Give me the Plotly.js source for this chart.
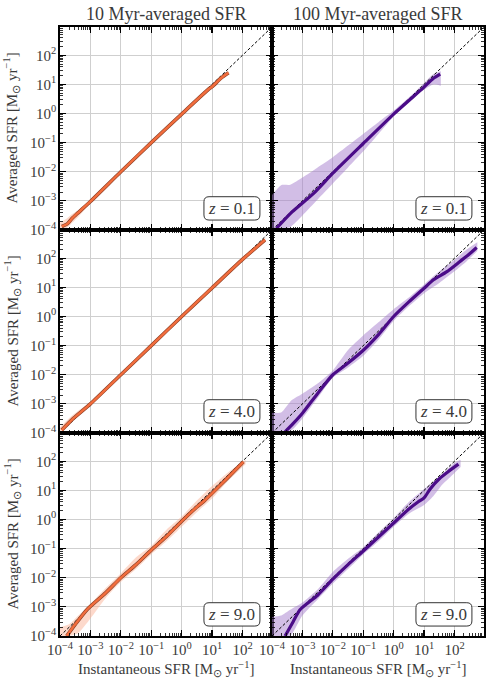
<!DOCTYPE html>
<html>
<head>
<meta charset="utf-8">
<script src="https://cdn.plot.ly/plotly-3.0.1.min.js"></script>
<style>
  html, body { margin: 0; padding: 0; background: #fff; }
  #chart { width: 489px; height: 682px; }
</style>
</head>
<body>
<div id="chart"></div>
<script>
(function () {
    'use strict';

    var DIAG_LOG = [-4, 3];

    // 10 Myr, z = 0.1
    var P1_X = [-3.94, -3.75, -3.6, -3.45, -3.0, -2.0, -1.0, 0.0, 0.9, 1.0, 1.3, 1.54];
    var P1_Y = [-3.88, -3.78, -3.6, -3.45, -3.02, -2.0, -1.0, -0.02, 0.85, 0.92, 1.22, 1.40];
    var P1_BX = [-4.0, -3.8, -3.6, -3.4, -3.0, -2.0, -1.0, 0.0, 1.0, 1.3, 1.55];
    var P1_LO = [-4.0, -3.95, -3.75, -3.55, -3.08, -2.05, -1.05, -0.07, 0.86, 1.16, 1.35];
    var P1_HI = [-3.75, -3.62, -3.45, -3.32, -2.95, -1.95, -0.95, 0.03, 0.98, 1.28, 1.45];

    // 100 Myr, z = 0.1
    var P2_X = [-3.85, -3.34, -2.64, -2.0, -1.0, 0.0, 0.98, 1.3, 1.53];
    var P2_Y = [-3.94, -3.38, -2.75, -2.05, -1.03, -0.02, 0.89, 1.2, 1.35];
    var P2_BX = [-4.0, -3.7, -3.4, -3.0, -2.5, -2.0, -1.5, -1.0, -0.5, 0.0, 0.5, 1.0, 1.3, 1.55];
    var P2_LO = [-4.0, -4.0, -3.9, -3.5, -2.95, -2.4, -1.85, -1.3, -0.7, -0.1, 0.4, 0.82, 1.0, 0.95];
    var P2_HI = [-2.8, -2.46, -2.45, -2.2, -1.85, -1.5, -1.1, -0.7, -0.3, 0.1, 0.55, 1.05, 1.35, 1.45];

    // 10 Myr, z = 4.0
    var P3_X = [-3.94, -3.56, -3.0, -2.0, -1.0, 0.0, 1.0, 2.0, 2.74];
    var P3_Y = [-3.9, -3.5, -3.0, -2.0, -1.0, 0.0, 0.98, 1.96, 2.63];
    var P3_BX = [-4.0, -3.6, -3.0, -2.0, -1.0, 0.0, 1.0, 2.0, 2.75];
    var P3_LO = [-4.0, -3.6, -3.07, -2.06, -1.06, -0.06, 0.9, 1.88, 2.55];
    var P3_HI = [-3.8, -3.4, -2.93, -1.94, -0.94, 0.08, 1.08, 2.05, 2.72];

    // 100 Myr, z = 4.0
    var P4_X = [-3.57, -3.3, -3.0, -2.5, -2.0, -1.5, -1.0, -0.5, 0.0, 0.5, 1.0, 1.31, 1.75, 2.18, 2.46, 2.73];
    var P4_Y = [-3.96, -3.67, -3.32, -2.64, -2.0, -1.6, -1.16, -0.62, 0.0, 0.5, 0.97, 1.26, 1.54, 1.89, 2.12, 2.37];
    var P4_BX = [-4.0, -3.7, -3.35, -3.0, -2.5, -2.0, -1.5, -1.0, -0.5, 0.0, 0.5, 1.0, 1.5, 2.0, 2.4, 2.75];
    var P4_LO = [-4.0, -4.0, -3.9, -3.5, -2.8, -2.1, -1.75, -1.35, -0.8, -0.15, 0.35, 0.8, 1.15, 1.55, 1.9, 2.25];
    var P4_HI = [-3.3, -3.3, -2.87, -2.65, -2.3, -1.85, -1.15, -0.65, -0.2, 0.25, 0.65, 1.1, 1.55, 1.95, 2.3, 2.55];

    // 10 Myr, z = 9.0
    var P5_X = [-3.78, -3.5, -3.1, -2.5, -2.0, -1.5, -1.0, -0.5, 0.0, 0.5, 0.75, 1.0, 1.5, 2.03];
    var P5_Y = [-4.0, -3.6, -3.08, -2.52, -2.0, -1.55, -1.05, -0.58, -0.06, 0.43, 0.65, 0.9, 1.42, 1.98];
    var P5_BX = [-4.0, -3.7, -3.4, -3.0, -2.5, -2.0, -1.5, -1.0, -0.5, 0.0, 0.5, 1.0, 1.5, 2.1];
    var P5_LO = [-4.0, -4.0, -3.9, -3.4, -2.7, -2.15, -1.7, -1.2, -0.75, -0.25, 0.25, 0.72, 1.3, 1.9];
    var P5_HI = [-3.7, -3.6, -3.3, -2.9, -2.35, -1.85, -1.3, -0.9, -0.35, 0.1, 0.65, 1.15, 1.6, 2.05];

    // 100 Myr, z = 9.0
    var P6_X = [-3.57, -3.3, -3.08, -2.5, -2.0, -1.5, -1.0, -0.5, 0.0, 0.5, 0.8, 1.0, 1.2, 1.5, 1.8, 2.13];
    var P6_Y = [-4.0, -3.5, -3.1, -2.6, -2.05, -1.55, -1.08, -0.6, -0.12, 0.36, 0.6, 0.74, 1.05, 1.4, 1.65, 1.9];
    var P6_BX = [-4.0, -3.7, -3.4, -3.0, -2.5, -2.0, -1.5, -1.0, -0.5, 0.0, 0.5, 1.0, 1.3, 1.6, 2.0, 2.2];
    var P6_LO = [-4.0, -4.0, -4.0, -3.3, -2.75, -2.2, -1.7, -1.2, -0.75, -0.25, 0.2, 0.5, 0.8, 1.2, 1.6, 1.8];
    var P6_HI = [-3.35, -3.3, -3.1, -2.85, -2.4, -1.8, -1.35, -0.95, -0.45, 0.05, 0.6, 1.05, 1.3, 1.55, 1.95, 2.05];

    var REDSHIFTS = ['0.1', '4.0', '9.0'];
    var COL_TITLES = ['10 Myr-averaged SFR', '100 Myr-averaged SFR'];
    var DECADES = [-4, -3, -2, -1, 0, 1, 2];
    var Y_LABEL = 'Averaged SFR [M<sub>⊙</sub> yr<sup>−1</sup>]';
    var X_LABEL = 'Instantaneous SFR [M<sub>⊙</sub> yr<sup>−1</sup>]';

    var ORANGE = '#f26d3d', ORANGE_EDGE = '#8c4128', ORANGE_BAND = 'rgba(250,170,140,0.45)';
    var PURPLE = '#4b0c88', PURPLE_BAND = 'rgba(165,125,205,0.5)';
    var SERIF = "'Liberation Serif', serif";
    var INK = '#3a3a3a';

    var PANELS = [
        { x: P1_X, y: P1_Y, bx: P1_BX, lo: P1_LO, hi: P1_HI },
        { x: P2_X, y: P2_Y, bx: P2_BX, lo: P2_LO, hi: P2_HI },
        { x: P3_X, y: P3_Y, bx: P3_BX, lo: P3_LO, hi: P3_HI },
        { x: P4_X, y: P4_Y, bx: P4_BX, lo: P4_LO, hi: P4_HI },
        { x: P5_X, y: P5_Y, bx: P5_BX, lo: P5_LO, hi: P5_HI },
        { x: P6_X, y: P6_Y, bx: P6_BX, lo: P6_LO, hi: P6_HI },
    ];

    function lin(a) { return a.map(function (v) { return Math.pow(10, v); }); }

    // 2..9 x 10^n positions for minor ticks
    var minorVals = [];
    for (var e = -4; e <= 2; e++) for (var k = 2; k <= 9; k++) minorVals.push(k * Math.pow(10, e));

    var W = 489, H = 682;
    var COLS = [[60 / W, 272 / W], [272 / W, 484 / W]];
    var ROWS = [[1 - 230 / H, 1 - 27 / H], [1 - 433 / H, 1 - 230 / H], [1 - 636 / H, 1 - 433 / H]];

    var traces = [], layout = {
        width: W, height: H, margin: { l: 0, r: 0, t: 0, b: 0 },
        paper_bgcolor: '#fff', plot_bgcolor: '#fff',
        showlegend: false, font: { family: SERIF, size: 14, color: INK },
        annotations: [], shapes: [],
    };

    function axis(domain, anchor, showLabels) {
        return {
            type: 'log', range: [-4, 2.97], domain: domain, anchor: anchor,
            tickmode: 'array', tickvals: lin(DECADES),
            ticktext: DECADES.map(function (d) { return '10<sup>' + String(d).replace('-', '−') + '</sup>'; }),
            showticklabels: showLabels, tickangle: 0, ticklabelstandoff: -1,
            ticks: 'inside', ticklen: 6, tickwidth: 1.2, tickcolor: '#000',
            minor: { tickmode: 'array', tickvals: minorVals, ticks: 'inside', ticklen: 3,
                tickwidth: 0.8, tickcolor: '#000', showgrid: false },
            showline: true, linecolor: '#000', linewidth: 1.8, mirror: 'allticks',
            showgrid: true, gridcolor: '#cfcfcf', gridwidth: 1,
            zeroline: false, tickfont: { family: SERIF, size: 15, color: INK },
        };
    }

    PANELS.forEach(function (p, i) {
        var n = i + 1, row = Math.floor(i / 2), col = i % 2;
        var xa = 'x' + (n === 1 ? '' : n), ya = 'y' + (n === 1 ? '' : n);
        layout['xaxis' + (n === 1 ? '' : n)] = axis(COLS[col], ya, row === 2);
        layout['yaxis' + (n === 1 ? '' : n)] = axis(ROWS[row], xa, col === 0);

        var band = col === 0 ? ORANGE_BAND : PURPLE_BAND;
        traces.push({ x: lin(p.bx), y: lin(p.lo), xaxis: xa, yaxis: ya, mode: 'lines',
            line: { width: 0, color: band, shape: 'spline', smoothing: 0.6 }, hoverinfo: 'skip' });
        traces.push({ x: lin(p.bx), y: lin(p.hi), xaxis: xa, yaxis: ya, mode: 'lines',
            fill: 'tonexty', fillcolor: band,
            line: { width: 0, color: band, shape: 'spline', smoothing: 0.6 }, hoverinfo: 'skip' });
        traces.push({ x: lin(DIAG_LOG), y: lin(DIAG_LOG), xaxis: xa, yaxis: ya, mode: 'lines',
            line: { color: '#000', width: 1, dash: '3px,2px' }, hoverinfo: 'skip' });
        if (col === 0) {
            traces.push({ x: lin(p.x), y: lin(p.y), xaxis: xa, yaxis: ya, mode: 'lines',
                line: { color: ORANGE_EDGE, width: 3.6, shape: 'spline', smoothing: 0.6 }, hoverinfo: 'skip' });
            traces.push({ x: lin(p.x), y: lin(p.y), xaxis: xa, yaxis: ya, mode: 'lines',
                line: { color: ORANGE, width: 2.4, shape: 'spline', smoothing: 0.6 }, hoverinfo: 'skip' });
        } else {
            traces.push({ x: lin(p.x), y: lin(p.y), xaxis: xa, yaxis: ya, mode: 'lines',
                line: { color: PURPLE, width: 3.2, shape: 'spline', smoothing: 0.6 }, hoverinfo: 'skip' });
        }

        // rounded label box
        var x0 = 0.679, x1 = 0.943, y0 = 0.049, y1 = 0.164, rx = 0.024, ry = 0.025;
        layout.shapes.push({
            type: 'path', xref: xa + ' domain', yref: ya + ' domain',
            path: 'M' + (x0 + rx) + ',' + y0 + ' L' + (x1 - rx) + ',' + y0 +
                ' Q' + x1 + ',' + y0 + ' ' + x1 + ',' + (y0 + ry) +
                ' L' + x1 + ',' + (y1 - ry) + ' Q' + x1 + ',' + y1 + ' ' + (x1 - rx) + ',' + y1 +
                ' L' + (x0 + rx) + ',' + y1 + ' Q' + x0 + ',' + y1 + ' ' + x0 + ',' + (y1 - ry) +
                ' L' + x0 + ',' + (y0 + ry) + ' Q' + x0 + ',' + y0 + ' ' + (x0 + rx) + ',' + y0 + ' Z',
            fillcolor: '#fff', line: { color: '#333', width: 1 }, layer: 'above',
        });
        layout.annotations.push({
            xref: xa + ' domain', yref: ya + ' domain', x: (x0 + x1) / 2, y: (y0 + y1) / 2,
            xanchor: 'center', yanchor: 'middle', showarrow: false,
            text: '<i>z</i> = ' + REDSHIFTS[row], font: { family: SERIF, size: 17, color: INK },
        });
    });

    COL_TITLES.forEach(function (t, c) {
        layout.annotations.push({ xref: 'paper', yref: 'paper', x: (COLS[c][0] + COLS[c][1]) / 2, y: 1 - 14 / H,
            xanchor: 'center', yanchor: 'middle', showarrow: false, text: t,
            font: { family: SERIF, size: 18, color: INK } });
        layout.annotations.push({ xref: 'paper', yref: 'paper', x: (COLS[c][0] + COLS[c][1]) / 2, y: 1 - 669 / H,
            xanchor: 'center', yanchor: 'middle', showarrow: false, text: X_LABEL,
            font: { family: SERIF, size: 15, color: INK } });
    });
    ROWS.forEach(function (r) {
        layout.annotations.push({ xref: 'paper', yref: 'paper', x: 12 / W, y: (r[0] + r[1]) / 2,
            xanchor: 'center', yanchor: 'middle', showarrow: false, textangle: -90, text: Y_LABEL,
            font: { family: SERIF, size: 15, color: INK } });
    });

    Plotly.newPlot('chart', traces, layout, { displayModeBar: false, staticPlot: true });
})();
</script>
</body>
</html>
